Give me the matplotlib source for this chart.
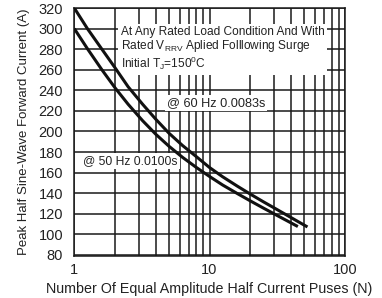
import matplotlib
matplotlib.use("Agg")
import matplotlib.pyplot as plt

plt.rcParams['font.family'] = ['Liberation Sans', 'DejaVu Sans']

# upper curve (starts at 320 A)
n_upper = [1, 1.25, 1.6, 2, 2.5, 3.2, 4, 5, 6.3, 8, 10, 12.5, 16, 20, 25, 32, 40, 50, 53]
i_upper = [320, 300, 280, 262, 243.5, 226.5, 212, 198.5, 186.5, 175.5, 165, 156, 147, 139.2,
           131.7, 123.7, 116.4, 109.1, 107.2]

# lower curve (starts at 300 A)
n_lower = [1, 1.25, 1.6, 2, 2.5, 3.2, 4, 5, 6.3, 8, 10, 12.5, 16, 20, 25, 32, 40, 45]
i_lower = [300, 280.5, 260, 242.5, 226.5, 210.5, 197.4, 185.8, 175, 165, 156.3, 148, 139.8,
           132.6, 125.6, 118, 111.2, 107.6]

y_ticks = list(range(80, 321, 20))
x_ticks = [1, 10, 100]
x_ticklabels = ['1', '10', '100']

fig = plt.figure(figsize=(3.82, 2.98), dpi=100)
ax = fig.add_axes([0.1945, 0.141, 0.708, 0.832])

ax.plot(n_upper, i_upper, color='#111111', lw=2.2, solid_capstyle='butt', zorder=4)
ax.plot(n_lower, i_lower, color='#111111', lw=2.2, solid_capstyle='butt', zorder=4)

ax.set_xscale('log')
ax.set_xlim(1, 100)
ax.set_ylim(79, 320)
ax.set_yticks(y_ticks)
ax.set_xticks(x_ticks)
ax.set_xticklabels(x_ticklabels)
ax.grid(True, which='both', color='#1a1a1a', lw=1.1)
ax.set_axisbelow(True)
ax.tick_params(which='both', length=0, labelsize=10.5, colors='#222222')
ax.tick_params(axis='y', pad=8)
ax.tick_params(axis='x', pad=5)

for s in ax.spines.values():
    s.set_color('#1a1a1a')
    s.set_linewidth(1.1)

ax.set_xlabel('Number Of Equal Amplitude Half Current Puses (N)', fontsize=10.3, color='#222222', labelpad=4)
ax.set_ylabel('Peak Half Sine-Wave Forward Current (A)', fontsize=9.5, color='#222222', labelpad=6)

box = dict(facecolor='white', edgecolor='none', pad=1.5)
ax.text(2.21, 303, 'At Any Rated Load Condition And With\n'
        r'Rated V$_\mathregular{RRV}$ Aplied Folllowing Surge' '\n'
        r'Initial T$_\mathregular{J}$=150$^\mathregular{0}$C',
        fontsize=8.6, va='top', ha='left', linespacing=1.05, color='#222222',
        bbox=dict(facecolor='white', edgecolor='none', pad=2), zorder=3)
ax.text(4.84, 228, '@ 60 Hz 0.0083s', fontsize=9.2, va='center', ha='left',
        color='#222222', bbox=box, zorder=3)
ax.text(1.16, 171, '@ 50 Hz 0.0100s', fontsize=8.7, va='center', ha='left',
        color='#222222', bbox=box, zorder=3)

fig.savefig('out.png', dpi=100)
